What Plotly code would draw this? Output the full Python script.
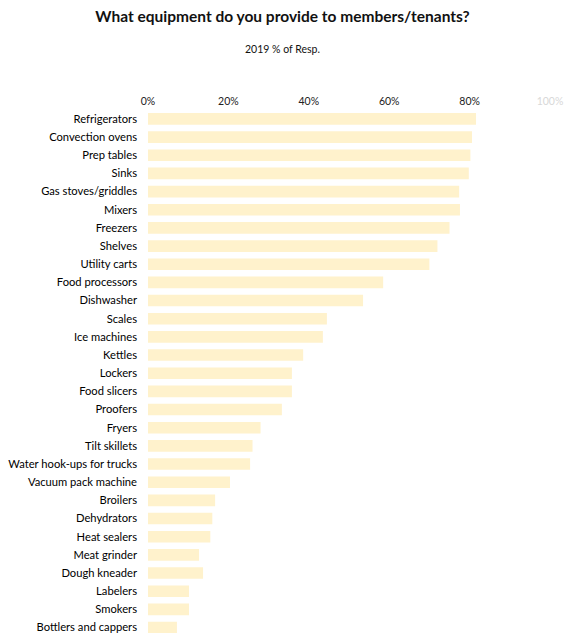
import plotly.graph_objects as go

categories = ["Refrigerators", "Convection ovens", "Prep tables", "Sinks",
              "Gas stoves/griddles", "Mixers", "Freezers", "Shelves", "Utility carts",
              "Food processors", "Dishwasher", "Scales", "Ice machines", "Kettles",
              "Lockers", "Food slicers", "Proofers", "Fryers", "Tilt skillets",
              "Water hook-ups for trucks", "Vacuum pack machine", "Broilers",
              "Dehydrators", "Heat sealers", "Meat grinder", "Dough kneader",
              "Labelers", "Smokers", "Bottlers and cappers"]
values = [81.6, 80.6, 80.2, 79.8, 77.4, 77.6, 75.0, 72.0, 70.0,
          58.5, 53.5, 44.5, 43.5, 38.6, 35.8, 35.8, 33.3, 28.0, 26.0,
          25.4, 20.4, 16.7, 16.0, 15.5, 12.7, 13.7, 10.2, 10.2, 7.2]
tick_vals = [0, 20, 40, 60, 80, 100]
tick_text = ["0%", "20%", "40%", "60%", "80%", "<span style='color:#d8d8d8'>100%</span>"]

fig = go.Figure(go.Bar(
    x=values, y=categories, orientation="h",
    marker=dict(color="#FFF2CC", line=dict(width=0)),
    hoverinfo="x+y",
))

plot_top = 108
plot_h = 633 - plot_top

fig.update_layout(
    width=565, height=633,
    margin=dict(l=148, r=15, t=plot_top, b=0),
    paper_bgcolor="white", plot_bgcolor="white",
    font=dict(family="Lato, Open Sans, sans-serif", color="#111"),
    title=dict(text="<b>What equipment do you provide to members/tenants?</b>",
               x=0.5, xanchor="center", y=1 - 17 / 633, yanchor="middle",
               font=dict(size=15.5, color="#111")),
    bargap=0.36,
    showlegend=False,
    annotations=[dict(text="2019 % of Resp.", xref="paper", yref="paper",
                      x=(282 - 148) / 402, y=1 + (plot_top - 49) / plot_h,
                      xanchor="center", yanchor="middle", showarrow=False,
                      font=dict(size=10.5, color="#111"))],
)
fig.update_xaxes(range=[0, 100], side="top", tickvals=tick_vals, ticktext=tick_text,
                 showgrid=False, zeroline=False, showline=False, ticks="",
                 tickfont=dict(size=10.5, color="#222"), fixedrange=True)
fig.update_yaxes(range=[28.3, -0.6], showgrid=False, showline=False, ticks="",
                 tickfont=dict(size=11.2, color="#000"), ticklabelstandoff=10)

fig.write_html("out.html")
